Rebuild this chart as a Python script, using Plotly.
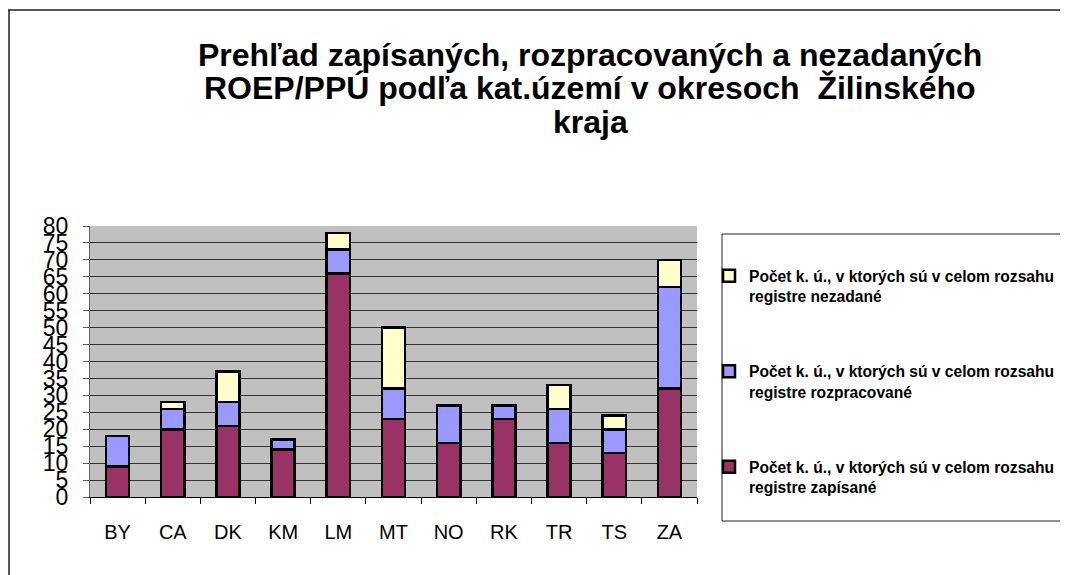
import plotly.graph_objects as go

# Districts of the Zilina region
okresy = ['BY', 'CA', 'DK', 'KM', 'LM', 'MT', 'NO', 'RK', 'TR', 'TS', 'ZA']

# number of cadastral areas per register state
zapisane = [9, 20, 21, 14, 66, 23, 16, 23, 16, 13, 32]
rozpracovane = [9, 6, 7, 3, 7, 9, 11, 4, 10, 7, 30]
nezadane = [0, 2, 9, 0, 5, 18, 0, 0, 7, 4, 8]

nazvy = [
    'Počet k. ú., v ktorých sú v celom rozsahu<br>registre zapísané',
    'Počet k. ú., v ktorých sú v celom rozsahu<br>registre rozpracované',
    'Počet k. ú., v ktorých sú v celom rozsahu<br>registre nezadané',
]
y_ticks = list(range(0, 85, 5))

title_lines = [
    'Prehľad zapísaných, rozpracovaných a nezadaných',
    'ROEP/PPÚ podľa kat.území v okresoch  Žilinského',
    'kraja',
]

# page has an 8px body margin, so the figure is laid out 8px up/left.
# figure is wider than the window so the legend does not push the margin
OFF = 8
W, H = 1100, 575 - OFF
L, T = 90 - OFF, 226 - OFF
R, B = W - (697 - OFF), H - (497 - OFF)
pw, ph = W - L - R, H - T - B


def px(x):  # reference pixel -> paper x
    return (x - OFF - L) / pw


def py(y):  # reference pixel -> paper y
    return (H - B - (y - OFF)) / ph


fig = go.Figure()
for vals, name, col, rank in zip([zapisane, rozpracovane, nezadane], nazvy,
                                 ['#993366', '#9999FF', '#FFFFCC'], [3, 2, 1]):
    fig.add_trace(go.Bar(
        x=okresy, y=vals, name=name, legendgroup=name, legendrank=rank,
        marker=dict(color=col, line=dict(color='black', width=2.5)),
    ))

fig.update_layout(
    width=W, height=H,
    barmode='stack', bargap=0.58,
    paper_bgcolor='white', plot_bgcolor='#C0C0C0',
    margin=dict(l=L, r=R, t=T, b=B),
    font=dict(family='Arial, Liberation Sans, sans-serif', color='black'),
    showlegend=True,
    legend=dict(x=px(709), y=py(259), xanchor='left', yanchor='top',
                traceorder='grouped', tracegroupgap=52, valign='top',
                bgcolor='rgba(0,0,0,0)', borderwidth=0,
                font=dict(size=15.6, weight='bold', color='black')),
)

# title lines, tightly spaced like the original
for line, yc in zip(title_lines, [55, 88, 122]):
    fig.add_annotation(text=line, xref='paper', yref='paper', x=px(590), y=py(yc),
                       xanchor='center', yanchor='middle', showarrow=False,
                       font=dict(size=32, weight='bold', color='black'))

fig.update_xaxes(
    showgrid=False, showline=True, linecolor='black', linewidth=1,
    ticks='outside', tickson='boundaries', ticklen=6, tickcolor='black',
    tickfont=dict(size=20), ticklabelstandoff=17,
)
fig.update_yaxes(
    range=[0, 80], tickvals=y_ticks, showgrid=True, gridcolor='#333333', gridwidth=1,
    showline=True, linecolor='#606060', linewidth=1,
    ticks='outside', ticklen=6, tickcolor='#606060',
    tickfont=dict(size=23), ticklabelstandoff=10, zeroline=False,
)

# outer frame (top and left edges visible)
fig.add_shape(type='line', xref='paper', yref='paper', x0=px(4), x1=px(1100), y0=py(10), y1=py(10),
              line=dict(color='#202020', width=1.5))
fig.add_shape(type='line', xref='paper', yref='paper', x0=px(9), x1=px(9), y0=py(10), y1=py(590),
              line=dict(color='#202020', width=1.5))
# legend box
fig.add_shape(type='rect', xref='paper', yref='paper', x0=px(722), x1=px(1100), y0=py(234), y1=py(521),
              line=dict(color='#202020', width=1), fillcolor='rgba(0,0,0,0)')

fig.write_html('out.html')
